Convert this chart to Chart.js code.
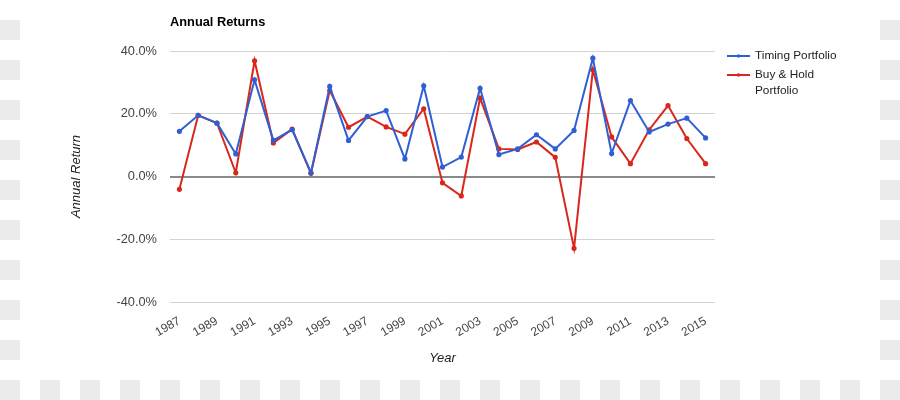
<!DOCTYPE html>
<html>
<head>
<meta charset="utf-8">
<script src="https://cdn.jsdelivr.net/npm/chart.js@4"></script>
<style>
  html, body { margin: 0; padding: 0; }
  body {
    width: 900px; height: 400px; position: relative; overflow: hidden;
    background-color: #fff;
    background-image: conic-gradient(#ebebeb 25%, transparent 0 50%, #ebebeb 0 75%, transparent 0);
    background-size: 40px 40px;
  }
  #paper { position: absolute; left: 20px; top: 0; width: 860px; height: 380px; background: #fff; }
  #wrap { position: absolute; left: 0; top: 0; width: 900px; height: 400px; }
</style>
</head>
<body>
<div id="paper"></div>
<div id="wrap"><canvas id="returnsChart" width="900" height="400"></canvas></div>
<script>
const years = [
  "1987", "1988", "1989", "1990", "1991", "1992", "1993", "1994", "1995", "1996",
  "1997", "1998", "1999", "2000", "2001", "2002", "2003", "2004", "2005", "2006",
  "2007", "2008", "2009", "2010", "2011", "2012", "2013", "2014", "2015",
];
const timingReturns = [
  14.4, 19.5, 17.0, 7.2, 30.8, 11.5, 14.9, 1.2, 28.7, 11.5,
  19.1, 21.0, 5.6, 28.9, 3.0, 6.2, 28.1, 7.0, 8.8, 13.3,
  8.8, 14.7, 37.7, 7.3, 24.2, 14.2, 16.7, 18.6, 12.3,
];
const buyHoldReturns = [
  -4.1, 19.5, 17.0, 1.2, 36.9, 10.7, 15.1, 1.0, 27.4, 15.7,
  19.1, 15.8, 13.5, 21.6, -2.0, -6.2, 25.0, 8.8, 8.6, 11.0,
  6.1, -22.9, 34.0, 12.6, 4.1, 14.9, 22.6, 12.1, 4.1,
];
const yTicks = [-40, -20, 0, 20, 40];

const BLUE = "#2f5fd2";
const RED = "#d9271c";
const FONT = "'Liberation Sans', Arial, sans-serif";

// title + legend drawn by hand (legend label wraps onto two lines)
const decorations = {
  id: "decorations",
  afterDraw(chart) {
    const ctx = chart.ctx;
    ctx.save();
    ctx.textBaseline = "middle";
    ctx.textAlign = "left";

    ctx.fillStyle = "#000";
    ctx.font = "bold 12.8px " + FONT;
    ctx.fillText("Annual Returns", 170, 22);

    const items = [
      { color: BLUE, y: 56, lines: ["Timing Portfolio"] },
      { color: RED, y: 75, lines: ["Buy & Hold", "Portfolio"] },
    ];
    items.forEach(function (item) {
      ctx.strokeStyle = item.color;
      ctx.lineWidth = 2;
      ctx.beginPath();
      ctx.moveTo(727, item.y);
      ctx.lineTo(750, item.y);
      ctx.stroke();
      ctx.fillStyle = item.color;
      ctx.beginPath();
      ctx.arc(738.5, item.y, 1.8, 0, Math.PI * 2);
      ctx.fill();
      ctx.fillStyle = "#222";
      ctx.font = "11.8px " + FONT;
      item.lines.forEach(function (line, i) {
        ctx.fillText(line, 755, item.y + i * 16);
      });
    });
    ctx.restore();
  },
};

new Chart(document.getElementById("returnsChart"), {
  type: "line",
  data: {
    labels: years,
    datasets: [
      {
        label: "Timing Portfolio",
        data: timingReturns,
        borderColor: BLUE,
        backgroundColor: BLUE,
        borderWidth: 2,
        pointRadius: 1.6,
        tension: 0,
      },
      {
        label: "Buy & Hold Portfolio",
        data: buyHoldReturns,
        borderColor: RED,
        backgroundColor: RED,
        borderWidth: 2,
        pointRadius: 1.6,
        tension: 0,
      },
    ],
  },
  options: {
    responsive: false,
    animation: false,
    layout: { padding: { left: 69, top: 51, right: 185, bottom: 34 } },
    plugins: {
      legend: { display: false },
      title: { display: false },
      tooltip: { enabled: false },
    },
    scales: {
      x: {
        offset: true,
        grid: { display: false, drawTicks: false },
        border: { display: false },
        afterFit: function (scale) { scale.height = 64; },
        ticks: {
          autoSkip: false,
          minRotation: 30,
          maxRotation: 30,
          padding: 12,
          color: "#444",
          font: { family: FONT, size: 12 },
          callback: function (value, index) {
            return index % 2 === 0 ? years[index] : "";
          },
        },
        title: {
          display: true,
          text: "Year",
          color: "#222",
          padding: 0,
          font: { family: FONT, size: 13, style: "italic" },
        },
      },
      y: {
        min: yTicks[0],
        max: yTicks[yTicks.length - 1],
        afterFit: function (scale) { scale.width = 101; },
        afterBuildTicks: function (scale) {
          scale.ticks = yTicks.map(function (v) { return { value: v }; });
        },
        grid: {
          drawTicks: false,
          color: function (c) { return c.tick && c.tick.value === 0 ? "#8a8a8a" : "#d4d4d4"; },
          lineWidth: function (c) { return c.tick && c.tick.value === 0 ? 2 : 1; },
        },
        border: { display: false },
        ticks: {
          padding: 13,
          color: "#444",
          font: { family: FONT, size: 12.8 },
          callback: function (value) { return value.toFixed(1) + "%"; },
        },
        title: {
          display: true,
          text: "Annual Return",
          color: "#222",
          padding: 0,
          font: { family: FONT, size: 13, style: "italic" },
        },
      },
    },
  },
  plugins: [decorations],
});
</script>
</body>
</html>
